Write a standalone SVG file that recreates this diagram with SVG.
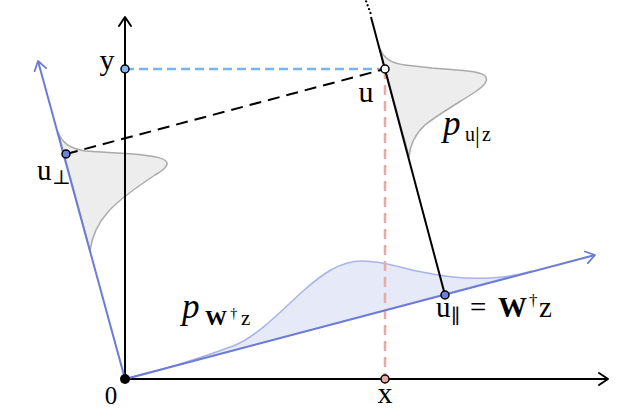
<svg xmlns="http://www.w3.org/2000/svg" width="644" height="420" viewBox="0 0 644 420">
<style>
.lbl{font-family:'Liberation Serif','Times New Roman','DejaVu Serif',serif;fill:#000}
.pt{stroke:#000;stroke-width:1.5}
.axis{stroke:#000;stroke-width:2;fill:none}
.bl{stroke:#6b7bd6;stroke-width:2;fill:none}
</style>
<defs>
<marker id="ak" viewBox="-12 -8 14 16" refX="0" refY="0" markerWidth="14" markerHeight="16" markerUnits="userSpaceOnUse" orient="auto">
<path d="M-9,-6 L0,0 L-9,6" fill="none" stroke="#000" stroke-width="2" stroke-linecap="round" stroke-linejoin="round"/>
</marker>
<marker id="ab" viewBox="-12 -8 14 16" refX="0" refY="0" markerWidth="14" markerHeight="16" markerUnits="userSpaceOnUse" orient="auto">
<path d="M-9,-6 L0,0 L-9,6" fill="none" stroke="#6b7bd6" stroke-width="1.8" stroke-linecap="round" stroke-linejoin="round"/>
</marker>
</defs>
<rect width="644" height="420" fill="#fff"/>
<g id="densities">
<path id="p-uz" d="M380,49 C384,58 390,63 405,65 L432,68 C460,70 478,71 484,75 C490,80 484,86 475,92 C460,102 440,113 425,125 C414,135 410,146 409,157 Z" fill="#ededed" stroke="#aaaaaa" stroke-width="1.5"/>
<path id="p-uperp" d="M58,132 C62,142 68,148 85,151 L133,154 C155,156 166,158 167,163 C168,167 162,171 155,175 C140,185 120,198 108,212 C97,224 92,236 90,251 Z" fill="#ededed" stroke="#aaaaaa" stroke-width="1.5"/>
<path id="p-wz" d="M125,379 C165,370 200,358 233,346 C258,336 282,310 302,292 C322,274 340,261 362,261 C385,261 400,268 422,272 C445,277 470,279 490,278 C510,277 522,274 532,271 Z" fill="#e6e9f8" stroke="#a9b3ea" stroke-width="1.5"/>
</g>
<g id="connectors">
<line x1="125" y1="69" x2="385" y2="69" stroke="#7ab3f0" stroke-width="2.5" stroke-dasharray="9 5"/>
<line x1="385" y1="69" x2="385" y2="379" stroke="#eaa9a3" stroke-width="2.5" stroke-dasharray="10 6"/>
<line x1="66" y1="154" x2="385" y2="69" stroke="#000" stroke-width="2" stroke-dasharray="12 7"/>
<line class="axis" x1="125" y1="379" x2="608" y2="379" marker-end="url(#ak)"/>
<line class="axis" x1="125" y1="379" x2="125" y2="17" marker-end="url(#ak)"/>
<line class="bl" x1="125" y1="379" x2="595" y2="255" marker-end="url(#ab)"/>
<line class="bl" x1="125" y1="379" x2="38" y2="61" marker-end="url(#ab)"/>
<line x1="445" y1="295" x2="371" y2="17" stroke="#000" stroke-width="2"/>
<line x1="370.5" y1="13" x2="366" y2="1" stroke="#000" stroke-width="2.2" stroke-dasharray="0.1 4" stroke-linecap="round"/>
</g>
<g id="node-0"><circle cx="125" cy="379" r="5" fill="#000"/><text class="lbl" x="111" y="404" font-size="25" text-anchor="middle">0</text></g>
<g id="node-y"><circle class="pt" cx="125" cy="69" r="4" fill="#80b8f0"/><text class="lbl" x="107" y="70" font-size="30" text-anchor="middle">y</text></g>
<g id="node-u"><circle class="pt" cx="385" cy="69" r="4" fill="#fff"/><text class="lbl" x="366" y="102" font-size="30" text-anchor="middle">u</text></g>
<g id="node-x"><circle class="pt" cx="385" cy="379" r="4" fill="#eaa9a3"/><text class="lbl" x="385" y="403" font-size="30" text-anchor="middle">x</text></g>
<g id="node-uperp"><circle class="pt" cx="66" cy="154" r="4" fill="#7080d8"/><text class="lbl" y="180" font-size="29"><tspan x="37">u</tspan><tspan x="52" y="184" font-size="20">⊥</tspan></text></g>
<g id="node-upar"><circle class="pt" cx="445" cy="295" r="4" fill="#7080d8"/><text class="lbl" y="317" font-size="29"><tspan x="436">u</tspan><tspan x="451" y="323" font-size="20">∥</tspan><tspan x="470" y="317">=</tspan><tspan x="498" font-weight="bold">W</tspan><tspan x="529" y="306" font-size="17">†</tspan><tspan x="539" y="317">z</tspan></text></g>
<g id="label-puz"><text class="lbl" y="135" font-size="35"><tspan x="443" font-style="italic">p</tspan><tspan x="465" y="141" font-size="20">u</tspan><tspan x="475" y="143" font-size="24">|</tspan><tspan x="482" y="141" font-size="20">z</tspan></text></g>
<g id="label-pwz"><text class="lbl" y="318" font-size="35"><tspan x="182" font-style="italic">p</tspan><tspan x="205" y="325" font-size="22" font-weight="bold">W</tspan><tspan x="230" y="318" font-size="15">†</tspan><tspan x="241" y="325" font-size="21">z</tspan></text></g>
</svg>
